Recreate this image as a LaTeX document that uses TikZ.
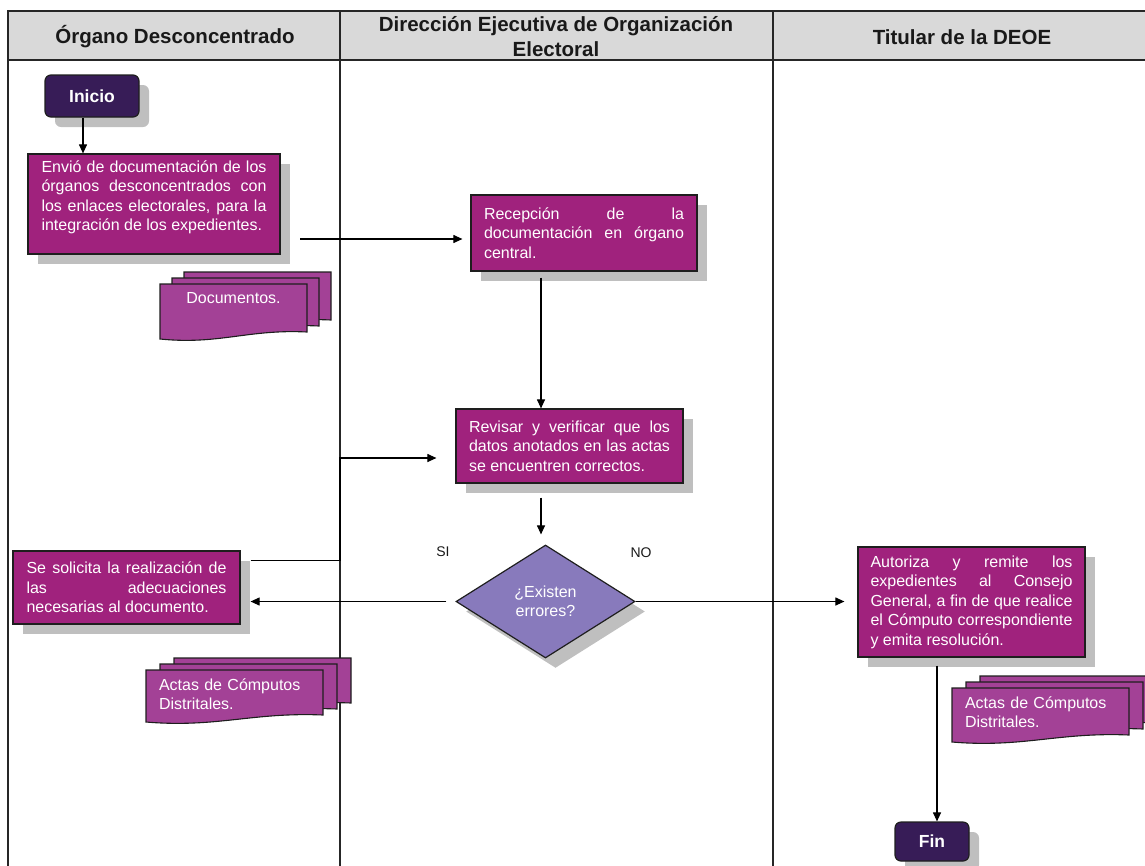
\documentclass[tikz,border=0pt]{standalone}
\usepackage{fontspec}
\setmainfont{Liberation Sans}
\usetikzlibrary{arrows.meta,shapes.geometric,shadows,calc}
\tolerance=10000
\hyphenpenalty=10000
\definecolor{procfill}{RGB}{160,34,125}
\definecolor{docfill}{RGB}{163,65,150}
\definecolor{termfill}{RGB}{55,28,87}
\definecolor{decfill}{RGB}{136,122,188}
\definecolor{headfill}{RGB}{217,217,217}
\definecolor{shadowgray}{RGB}{191,191,191}
\definecolor{edgecol}{RGB}{30,30,30}
\tikzset{
  myshadow/.style={drop shadow={shadow xshift=10pt,shadow yshift=-10pt,fill=shadowgray,opacity=1}},
  procbox/.style={rectangle,draw=edgecol,line width=1.2pt,fill=procfill,text=white,
    font=\fontsize{16}{19.5}\selectfont,align=justify,inner xsep=12.5pt,inner ysep=0pt,myshadow},
  boxtext/.style={text=white,font=\fontsize{16}{19.5}\selectfont,align=justify,inner sep=0pt},
  termbox/.style={rectangle,rounded corners=6pt,draw=edgecol,line width=1.2pt,fill=termfill,
    text=white,font=\bfseries\fontsize{17.5}{20}\selectfont,myshadow},
  decbox/.style={diamond,draw=edgecol,line width=1.2pt,fill=decfill,text=white,inner sep=0pt,
    font=\fontsize{16}{19.5}\selectfont,align=center,myshadow},
  docstyle/.style={draw=edgecol,line width=1.1pt,fill=docfill},
  doctext/.style={text=white,font=\fontsize{16}{19.5}\selectfont,inner sep=0pt},
  headtext/.style={text=black!90,font=\bfseries\fontsize{20.5}{25}\selectfont,inner sep=0pt,align=center},
  lbl/.style={text=black!90,font=\fontsize{14}{16}\selectfont,inner sep=0pt},
  frameline/.style={draw=black!85,line width=1.3pt},
  arr/.style={draw=black,line width=1.1pt,-{Triangle[length=9pt,width=8pt]}},
}
\newcommand{\docpage}[4]{%
  \path[docstyle] (#1,#2) -- ({#1+#3},#2) -- ({#1+#3},{#2+#4-7})
    .. controls ({#1+0.6*#3},{#2+#4-10}) and ({#1+0.4*#3},{#2+#4+6}) .. (#1,{#2+#4}) -- cycle;}
\begin{document}
\begin{tikzpicture}[x=1pt,y=-1pt]
\useasboundingbox (0,0) rectangle (1145,865);
% header and lanes
\fill[headfill] (8,11) rectangle (1150,60);
\draw[frameline] (8,870) -- (8,11) -- (1150,11);
\draw[frameline] (8,60) -- (1150,60);
\draw[frameline] (340,11) -- (340,870);
\draw[frameline] (773,11) -- (773,870);
\node[headtext] (h1) at (175,37) {Órgano Desconcentrado};
\node[headtext] (h2) at (556,36.5) {Dirección Ejecutiva de Organización\\Electoral};
\node[headtext] (h3) at (962,37) {Titular de la DEOE};

% nodes
\node[termbox,minimum width=94pt,minimum height=42pt] (inicio) at (92,96) {Inicio};
\node[procbox,minimum width=252pt,minimum height=100pt] (envio) at (154,204) {};
\node[boxtext,text width=225pt] (enviotxt) at (154,197.5) {Envió de documentación de los\linebreak órganos desconcentrados con\linebreak los enlaces electorales, para la\linebreak integración de los expedientes.};
\node[procbox,text width=200pt,minimum width=226pt,minimum height=76pt] (recep) at (584,233) {Recepción de la\linebreak documentación en órgano\linebreak central.};
\node[procbox,text width=201pt,minimum width=227pt,minimum height=74pt] (revisar) at (569.5,446) {Revisar y verificar que los\linebreak datos anotados en las actas\linebreak se encuentren correctos.};
\node[decbox,minimum width=179pt,minimum height=113pt] (dec) at (545.5,601.5) {¿Existen\\errores?};
\node[procbox,text width=200pt,minimum width=227pt,minimum height=73pt] (sesol) at (126.5,587.5) {Se solicita la realización de\linebreak las adecuaciones\linebreak necesarias al documento.};
\node[procbox,text width=202pt,minimum width=227pt,minimum height=110pt] (autoriza) at (971.5,602) {Autoriza y remite los\linebreak expedientes al Consejo\linebreak General, a fin de que realice\linebreak el Cómputo correspondiente\linebreak y emita resolución.};
\node[termbox,minimum width=74pt,minimum height=39pt] (fin) at (932,841.5) {Fin};
\node[lbl] (si) at (443,552) {SI};
\node[lbl] (no) at (641,553) {NO};

% documents
\docpage{184}{272}{147}{55}
\docpage{172}{278}{147}{55}
\docpage{160}{284}{147}{55}
\node[doctext] (docs) at (233.5,298) {Documentos.};
\docpage{174}{658}{177}{52}
\docpage{160}{664}{177}{52}
\docpage{146}{670}{177}{52}
\node[doctext,text width=150pt,align=left] (actas1) at (234,694) {Actas de Cómputos\\Distritales.};
\docpage{980}{676}{177}{54}
\docpage{966}{682}{177}{54}
\docpage{952}{688}{177}{54}
\node[doctext,text width=150pt,align=left] (actas2) at (1040,712) {Actas de Cómputos\\Distritales.};

% connectors
\coordinate (c1) at (300,239);
\coordinate (x541) at (541,0);
\coordinate (x937) at (937,0);
\coordinate (lp) at (340,458);
\draw[arr] ([xshift=-9pt]inicio.south) -- ([xshift=-9pt]inicio.south |- envio.north);
\draw[arr,shorten >=8pt] (c1) -- (c1 -| recep.west);
\draw[arr,shorten <=6pt] (recep.south -| x541) -- (revisar.north -| x541);
\draw[arr,shorten <=14pt,shorten >=10pt] (revisar.south -| x541) -- (dec.north -| x541);
\draw[arr,shorten <=9pt,shorten >=10pt] (dec.west) -- (dec.west -| sesol.east);
\draw[arr,shorten >=13pt] (dec.east) -- (dec.east -| autoriza.west);
\draw[arr,shorten >=19pt] ([shift={(10pt,-10pt)}]sesol.north east) -| (lp) -- (lp -| revisar.west);
\draw[arr,shorten <=8pt] (autoriza.south -| x937) -- (fin.north -| x937);
\end{tikzpicture}
\end{document}
